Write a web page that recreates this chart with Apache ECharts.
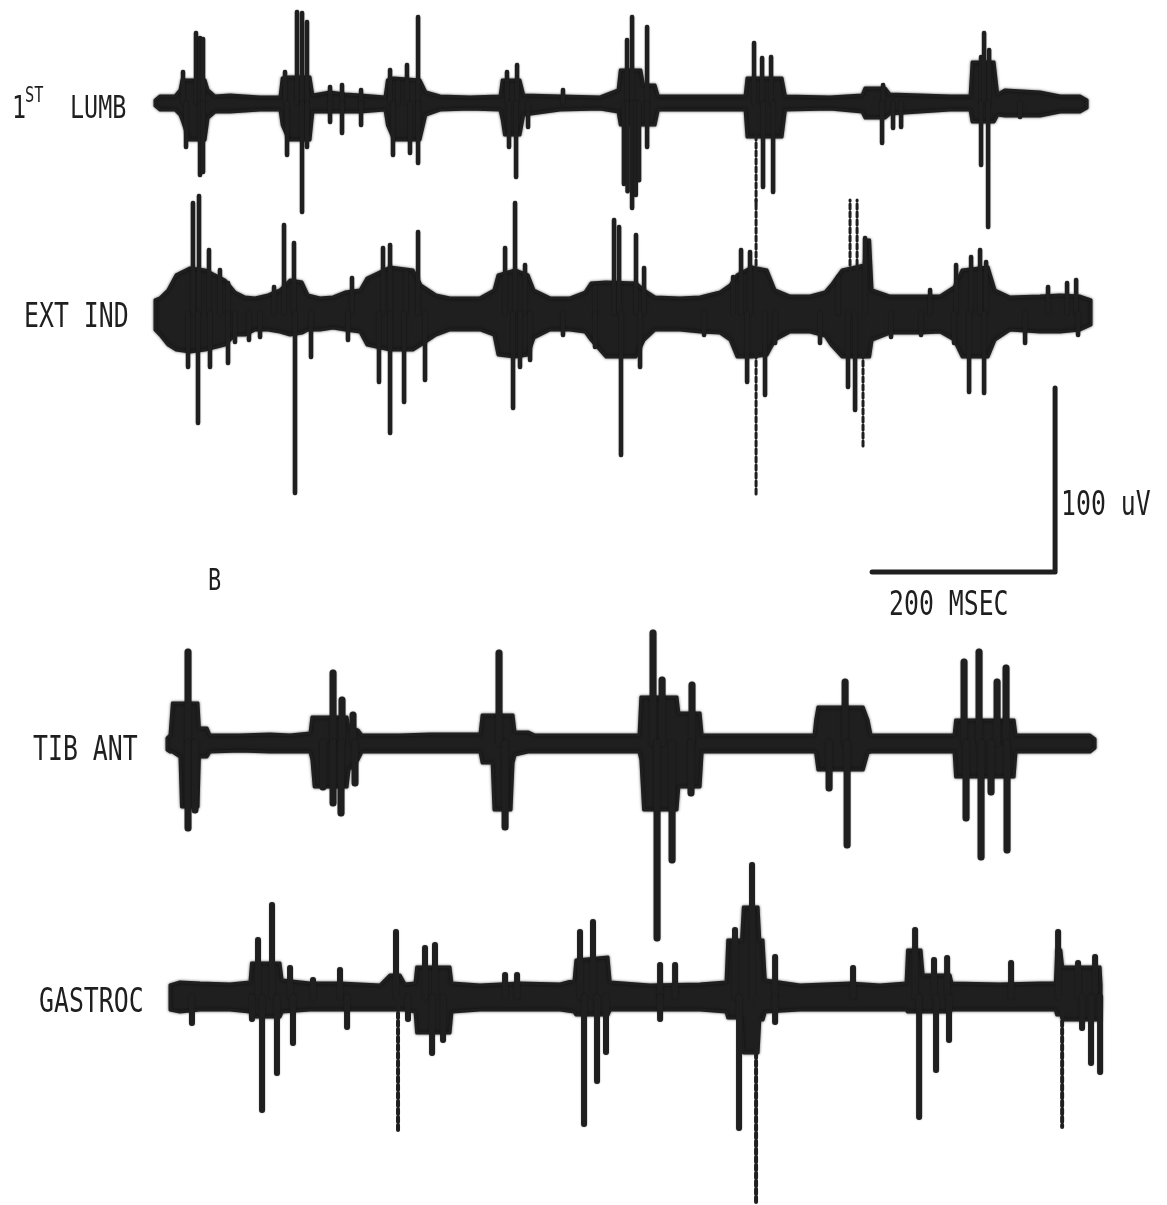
<!DOCTYPE html>
<html>
<head>
<meta charset="utf-8">
<script src="https://cdn.jsdelivr.net/npm/echarts@6/dist/echarts.min.js"></script>
<style>
html,body{margin:0;padding:0;background:#fff;}
#chart{width:1167px;height:1205px;}
</style>
</head>
<body>
<div id="chart"></div>
<script>
// ---------------- DATA (time in ms, amplitude in uV, relative to each trace's baseline) ----------------
const traceNames = ['1ST LUMB', 'EXT IND', 'TIB ANT', 'GASTROC'];

// envelope of dense activity band: [t, upper, lower]
const lumbBand = [[0,1.6,-1.6],[5.5,3.8,-3.8],[21.9,3.8,-3.8],[27.3,7.1,-6.5],[29.5,12.5,-9.2],[37.0,12.5,-20.1],[54.7,12.5,-20.1],[58.0,7.1,-8.2],[65.6,3.8,-4.9],[82.0,4.3,-4.9],[114.8,3.3,-3.8],[136.6,3.3,-3.8],[139.0,13.6,-12.0],[146.0,14.1,-20.1],[169.4,14.1,-20.1],[172.5,4.3,-4.9],[191.3,6.0,-4.9],[207.7,4.9,-4.9],[224.1,4.3,-4.9],[251.4,3.3,-3.8],[254.0,12.5,-12.0],[261.0,13.6,-20.1],[289.6,12.5,-20.1],[296.0,6.0,-6.5],[311.5,3.8,-3.8],[344.3,3.3,-3.3],[377.1,3.8,-3.8],[379.5,12.5,-9.2],[382.0,12.5,-17.4],[398.9,12.5,-17.4],[403.0,4.3,-6.5],[442.7,3.8,-3.8],[486.4,3.3,-3.3],[506.1,7.1,-4.9],[508.5,17.9,-12.0],[531.0,17.9,-12.0],[534.0,9.8,-12.0],[546.5,9.8,-12.0],[550.0,3.8,-3.8],[595.7,3.8,-3.8],[644.9,3.8,-3.8],[647.0,13.6,-18.5],[685.3,13.6,-18.5],[689.0,3.8,-3.8],[737.8,3.3,-3.3],[772.8,4.3,-4.9],[776.0,8.2,-8.2],[797.9,8.2,-8.2],[803.0,4.9,-6.0],[868.9,3.8,-3.8],[890.8,3.8,-3.8],[893.0,22.3,-10.3],[917.0,22.3,-10.3],[921.0,4.9,-6.5],[929.1,7.1,-7.1],[967.3,6.0,-7.1],[989.2,3.8,-4.9],[1011.0,3.8,-4.9],[1018.7,1.6,-2.7]];
const lumbSpikes = [[30.6,16.8],[44.8,38.0],[49.2,35.3],[52.5,34.8],[142.1,16.8],[155.2,49.5],[160.7,48.9],[166.1,44.0],[191.3,8.7],[204.4,9.8],[225.2,7.1],[256.9,17.9],[265.6,11.4],[275.4,20.7],[287.5,46.7],[384.7,16.8],[395.7,20.7],[445.9,7.1],[515.9,34.2],[521.4,46.7],[537.8,41.3],[654.7,32.6],[663.5,24.5],[673.3,25.0],[795.7,9.8],[902.8,25.0],[906.1,38.0],[911.6,28.8],
  [33.9,-23.9],[49.2,-39.1],[52.5,-37.5],[144.3,-28.3],[160.7,-59.2],[166.1,-23.9],[191.3,-10.3],[204.4,-16.3],[225.2,-12.0],[260.1,-28.3],[278.7,-27.2],[287.5,-32.6],[386.9,-23.9],[394.6,-40.2],[407.7,-13.0],[512.5,-44.0],[516.5,-48.0],[521.4,-57.1],[525.5,-50.0],[529.0,-42.0],[537.8,-23.9],[664.5,-45.7],[675.5,-48.4],[794.6,-21.7],[806.6,-13.6],[815.4,-13.0],[902.8,-33.7],[910.5,-67.4],[945.4,-7.6]];
const lumbDotted = [[656.9,-54.3]];

const extBand = [[0,7.1,-9.2],[5.5,8.2,-12.0],[14.2,12.5,-17.4],[23.0,20.7,-20.1],[38.3,24.5,-21.2],[54.7,23.4,-20.1],[76.5,17.9,-17.4],[87.4,11.4,-12.0],[98.4,8.7,-12.0],[109.3,8.2,-9.2],[123.5,9.8,-9.2],[136.6,12.5,-10.3],[147.6,17.9,-12.0],[160.7,16.8,-10.9],[167.2,9.8,-9.2],[180.3,8.2,-9.2],[194.6,8.7,-8.2],[207.7,11.4,-9.2],[224.1,12.5,-10.3],[231.7,19.0,-17.4],[256.9,25.0,-20.1],[282.0,23.4,-20.1],[290.7,15.2,-17.4],[307.1,9.8,-12.0],[322.4,8.2,-9.2],[355.2,8.2,-9.2],[370.5,12.5,-12.0],[374.9,20.7,-22.8],[393.5,23.4,-23.9],[407.7,20.7,-22.8],[414.2,12.5,-13.6],[431.7,8.2,-9.2],[453.6,8.2,-9.2],[470.0,11.4,-10.3],[476.5,16.3,-14.7],[492.9,16.8,-23.9],[525.7,16.3,-23.9],[534.5,12.5,-14.7],[546.5,8.7,-9.2],[573.8,8.2,-9.2],[595.7,8.7,-10.3],[617.5,11.4,-10.9],[628.5,15.2,-14.7],[636.1,20.7,-23.9],[652.5,25.0,-23.9],[668.9,23.4,-22.8],[677.7,12.5,-14.7],[694.1,9.2,-10.3],[715.9,9.2,-10.3],[732.3,11.4,-12.5],[738.9,15.2,-17.4],[750.9,23.4,-23.9],[775.0,26.1,-23.9],[776.5,39.7,-23.9],[781.0,39.7,-23.9],[783.7,12.5,-14.7],[803.4,9.2,-10.9],[836.1,9.2,-10.9],[858.0,9.2,-10.3],[873.3,14.1,-14.7],[882.1,23.4,-23.9],[910.5,25.0,-23.9],[918.1,12.5,-14.7],[934.5,8.7,-9.2],[967.3,9.2,-10.3],[989.2,9.8,-10.3],[1011.0,9.2,-9.2],[1023.0,7.1,-6.5]];
const extSpikes = [[41.5,59.8],[48.1,63.6],[59.0,34.2],[71.0,23.4],[79.8,16.3],[130.1,14.1],[141.0,47.8],[151.9,38.0],[215.3,19.0],[249.2,35.3],[256.9,37.0],[274.3,22.3],[287.5,44.0],[382.6,35.3],[393.5,59.8],[404.4,26.1],[480.9,14.1],[501.7,50.5],[507.2,46.7],[525.7,42.4],[534.5,24.5],[631.8,19.6],[640.5,34.2],[650.3,33.2],[746.5,19.6],[776.0,40.8],[847.1,12.5],[875.5,26.1],[891.9,30.4],[901.7,34.2],[908.3,27.7],[976.0,14.1],[996.8,16.3],[1006.7,17.9],
  [36.1,-29.3],[47.0,-59.8],[60.1,-29.3],[79.8,-27.2],[87.4,-15.8],[102.7,-14.7],[114.8,-13.0],[153.0,-97.8],[170.5,-23.9],[210.9,-14.7],[244.8,-37.5],[256.9,-65.2],[272.2,-48.4],[295.1,-36.4],[391.3,-51.6],[398.9,-29.3],[409.9,-25.5],[445.9,-12.0],[480.9,-18.5],[509.3,-77.2],[530.1,-29.3],[600.1,-12.0],[647.1,-37.5],[666.7,-44.6],[677.7,-16.3],[726.8,-16.3],[757.4,-40.2],[765.1,-52.7],[804.4,-13.0],[837.2,-12.0],[873.3,-16.3],[889.7,-42.9],[906.1,-43.5],[950.9,-16.3],[1008.8,-12.0]];
const extDotted = [[656.9,61.4],[656.9,-98.9],[759.6,61.4],[767.3,61.4],[773.8,-72.8]];

const tibBand = [[13.1,2.7,-3.8],[16.4,4.3,-4.9],[19.0,21.7,-4.9],[27.3,21.7,-7.6],[29.0,21.7,-34.8],[47.0,21.7,-34.8],[48.5,8.2,-7.6],[56.8,8.2,-7.6],[60.1,4.3,-4.9],[92.9,4.3,-4.3],[125.7,4.9,-4.9],[147.6,4.3,-4.9],[169.4,5.4,-4.9],[171.5,14.1,-9.2],[174.0,14.1,-23.9],[209.9,14.1,-23.9],[212.0,8.2,-14.7],[221.9,7.1,-9.2],[226.2,4.3,-4.9],[267.8,4.3,-4.9],[300.6,4.9,-4.9],[355.2,4.9,-4.9],[357.5,15.2,-10.9],[368.5,15.2,-10.9],[370.5,15.2,-36.4],[389.1,15.2,-36.4],[391.3,15.2,-10.9],[393.5,6.0,-6.5],[407.7,6.0,-4.9],[415.3,4.3,-4.9],[486.4,4.3,-4.9],[529.0,4.3,-4.9],[531.0,25.0,-9.2],[534.0,25.0,-36.4],[570.5,25.0,-36.4],[572.5,16.3,-23.9],[595.7,16.3,-23.9],[598.0,4.3,-4.9],[661.3,4.3,-4.9],[720.3,4.3,-4.9],[722.0,12.5,-5.4],[724.5,19.6,-14.7],[774.0,19.6,-14.7],[779.3,12.5,-5.4],[782.6,4.3,-4.9],[873.3,4.3,-4.9],[875.0,12.5,-18.5],[938.9,12.5,-18.5],[941.0,4.3,-4.9],[1021.9,4.3,-4.9],[1027.4,2.2,-2.7]];
const tibSpikes = [[36.1,49.5],[194.6,38.0],[204.4,23.4],[216.4,15.2],[376.0,48.9],[544.3,59.8],[554.2,34.2],[586.9,31.5],[754.2,33.2],[884.2,44.0],[900.6,49.5],[920.3,33.2],[930.1,40.8],
  [36.1,-46.2],[43.7,-36.4],[183.6,-23.9],[194.6,-32.6],[203.3,-38.0],[218.6,-21.7],[382.6,-45.7],[548.7,-106.0],[565.1,-63.6],[585.8,-27.2],[736.7,-24.5],[756.4,-55.4],[886.4,-40.8],[902.8,-62.0],[913.7,-26.6],[931.2,-58.2]];
const tibDotted = [];

const gasBand = [[16.4,6.5,-7.1],[27.3,8.2,-8.2],[49.2,7.6,-7.1],[82.0,7.1,-7.1],[103.8,8.2,-8.2],[105.5,18.5,-10.9],[136.6,18.5,-10.9],[139.0,9.2,-8.2],[169.4,7.6,-7.1],[202.2,7.6,-7.1],[245.9,6.5,-7.1],[256.9,12.0,-7.1],[267.8,12.0,-7.1],[273.3,7.1,-7.1],[284.2,7.6,-8.2],[286.0,16.3,-19.6],[322.4,16.3,-19.6],[324.5,7.6,-8.2],[355.2,6.5,-7.1],[398.9,7.6,-7.1],[442.7,7.1,-7.1],[458.0,9.2,-8.2],[460.0,20.1,-9.8],[495.1,21.7,-9.8],[497.5,8.2,-7.1],[541.0,6.5,-7.1],[595.7,7.1,-7.1],[624.1,8.2,-8.2],[626.0,31.0,-11.4],[641.0,31.0,-11.4],[643.0,48.9,-30.4],[659.1,48.9,-30.4],[661.0,31.0,-12.5],[664.5,31.0,-12.5],[667.0,9.2,-8.2],[705.0,6.5,-7.1],[759.6,7.6,-7.1],[792.4,6.5,-7.1],[820.8,7.6,-7.1],[822.5,25.5,-8.2],[837.2,25.5,-8.2],[839.5,12.0,-8.2],[868.9,12.0,-8.2],[871.0,7.6,-7.1],[923.6,7.1,-7.1],[967.3,7.6,-7.1],[984.0,7.6,-7.1],[985.5,25.5,-9.8],[990.0,25.5,-9.8],[992.0,16.3,-12.5],[1032.9,16.3,-12.5],[1034.0,6.5,-4.3]];
const gasSpikes = [[112.6,31.0],[127.9,50.0],[147.6,15.8],[172.7,9.2],[202.2,14.7],[263.4,35.3],[295.1,26.6],[306.0,28.3],[382.6,12.0],[395.7,12.0],[464.5,35.3],[478.7,40.8],[552.0,17.4],[568.4,17.4],[633.9,36.4],[652.5,71.7],[677.7,21.7],[762.9,15.8],[830.7,36.4],[851.4,20.1],[865.7,21.2],[935.6,18.5],[987.0,35.3],[1008.8,18.5],[1027.4,21.7],
  [40.4,-14.1],[106.0,-12.0],[117.0,-61.4],[133.3,-41.3],[150.8,-25.0],[209.9,-16.3],[276.5,-12.0],[302.8,-30.4],[314.8,-23.4],[468.9,-69.0],[483.1,-45.7],[492.9,-29.9],[552.0,-12.0],[638.3,-71.2],[677.7,-13.6],[835.1,-65.2],[853.6,-39.7],[867.8,-23.4],[1013.2,-16.8],[1023.0,-35.9],[1032.9,-40.8]];
const gasDotted = [[265.6,-73.9],[656.9,-112.0],[991.4,-70.7]];

// calibration bar: 200 ms horizontal, 100 uV vertical (drawn in EXT IND coordinates)
const scaleBarOrigin = [783.7, -140.8];
const scaleBarLengths = [200, 100];
const scaleLabels = ['100 uV', '200 MSEC'];
const panelLabel = 'B';

// ---------------- LAYOUT ----------------
const W = 1167, H = 1205;
const GRID_LEFT = 155;
const PX_PER_MS = 0.915;
const PX_PER_UV = 1.84;
const X_MAX = (W - GRID_LEFT) / PX_PER_MS;
const Y_SPAN = H / PX_PER_UV;
const baselinesPx = [103, 313, 743, 997];
const INK = '#1f1f1f';

const bands = [lumbBand, extBand, tibBand, gasBand];
const spikes = [lumbSpikes, extSpikes, tibSpikes, gasSpikes];
const dotted = [lumbDotted, extDotted, tibDotted, gasDotted];
const spikeWidths = [4.5, 4.5, 7, 6];

const grids = [], xAxes = [], yAxes = [], series = [];
baselinesPx.forEach((b, i) => {
  grids.push({left: GRID_LEFT, right: 0, top: 0, bottom: 0, containLabel: false});
  xAxes.push({type: 'value', gridIndex: i, min: 0, max: X_MAX, show: false});
  const yMax = b / PX_PER_UV;
  yAxes.push({type: 'value', gridIndex: i, max: yMax, min: yMax - Y_SPAN, show: false});
  const env = bands[i];
  series.push({
    type: 'custom', xAxisIndex: i, yAxisIndex: i, data: env, silent: true,
    renderItem: function (params, api) {
      if (params.dataIndex !== 0) return null;
      const pts = [];
      for (let k = 0; k < env.length; k++) pts.push(api.coord([env[k][0], env[k][1]]));
      for (let k = env.length - 1; k >= 0; k--) pts.push(api.coord([env[k][0], env[k][2]]));
      return {type: 'polygon', shape: {points: pts}, style: {fill: INK, stroke: INK, lineWidth: 3, lineJoin: 'round', shadowBlur: 3, shadowColor: 'rgba(0,0,0,0.55)'}};
    }
  });
  const w = spikeWidths[i];
  series.push({
    type: 'custom', xAxisIndex: i, yAxisIndex: i, data: spikes[i], silent: true,
    renderItem: function (params, api) {
      const p0 = api.coord([api.value(0), 0]);
      const p1 = api.coord([api.value(0), api.value(1)]);
      return {type: 'line', shape: {x1: p0[0], y1: p0[1], x2: p1[0], y2: p1[1]}, style: {stroke: INK, lineWidth: w, lineCap: 'round', shadowBlur: 1.5, shadowColor: 'rgba(0,0,0,0.4)'}};
    }
  });
  series.push({
    type: 'custom', xAxisIndex: i, yAxisIndex: i, data: dotted[i], silent: true,
    renderItem: function (params, api) {
      const p0 = api.coord([api.value(0), 0]);
      const p1 = api.coord([api.value(0), api.value(1)]);
      return {type: 'line', shape: {x1: p0[0], y1: p0[1], x2: p1[0], y2: p1[1]}, style: {stroke: INK, lineWidth: Math.max(3, w - 2), lineCap: 'round', lineDash: [5, 3]}};
    }
  });
});

// calibration bar
series.push({
  type: 'line', xAxisIndex: 1, yAxisIndex: 1, silent: true, symbol: 'none', animation: false,
  data: [
    [scaleBarOrigin[0], scaleBarOrigin[1]],
    [scaleBarOrigin[0] + scaleBarLengths[0], scaleBarOrigin[1]],
    [scaleBarOrigin[0] + scaleBarLengths[0], scaleBarOrigin[1] + scaleBarLengths[1]]
  ],
  lineStyle: {color: INK, width: 5, cap: 'round', join: 'round'}
});

const FONT = '"DejaVu Sans Mono", monospace';
const SX = 0.73;
function txt(text, x, y, size) {
  return {type: 'text', x: x, y: y, scaleX: SX, silent: true,
    style: {text: text, fill: INK, font: (size || 34) + 'px ' + FONT, textAlign: 'left', textVerticalAlign: 'middle'}};
}

const graphics = [
  txt('1', 12, 110, 32),
  txt('ST', 25, 97, 21),
  txt('LUMB', 70, 110, 32),
  txt(traceNames[1], 24, 318),
  txt(traceNames[2], 33, 751),
  txt(traceNames[3], 39, 1003),
  txt(panelLabel, 208, 582, 30),
  txt(scaleLabels[0], 1061, 506),
  txt(scaleLabels[1], 889, 606)
];

const chart = echarts.init(document.getElementById('chart'), null, {renderer: 'canvas'});
chart.setOption({
  backgroundColor: '#ffffff',
  animation: false,
  grid: grids,
  xAxis: xAxes,
  yAxis: yAxes,
  series: series,
  graphic: graphics
});
</script>
</body>
</html>
